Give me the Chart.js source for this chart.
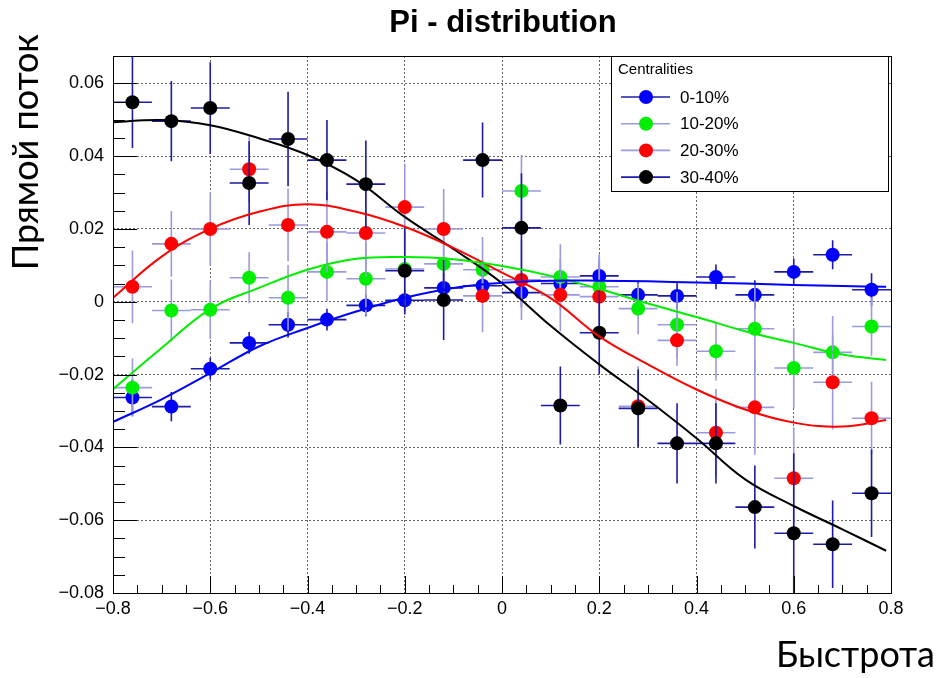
<!DOCTYPE html>
<html>
<head>
<meta charset="utf-8">
<title>Pi - distribution</title>
<script src="https://cdn.jsdelivr.net/npm/chart.js@4/dist/chart.umd.min.js"></script>
<style>
	html, body { margin: 0; padding: 0; background: #fff; }
</style>
</head>
<body>
<canvas id="chart" width="940" height="678"></canvas>
<script>
// bin centres (rapidity), half bin width 0.04
const rapidity = [-0.76, -0.68, -0.6, -0.52, -0.44, -0.36, -0.28, -0.2, -0.12, -0.04, 0.04, 0.12, 0.2, 0.28, 0.36, 0.44, 0.52, 0.6, 0.68, 0.76];
const binHalf = 0.04;
const centralities = ['0-10%', '10-20%', '20-30%', '30-40%'];

const flow0to10 = [-0.0263, -0.0288, -0.0184, -0.0113, -0.0063, -0.0049, -0.001, 0.0004, 0.0038, 0.0044, 0.0025, 0.005, 0.0071, 0.0019, 0.0016, 0.0068, 0.0019, 0.0082, 0.0129, 0.0033];
const flow10to20 = [-0.0236, -0.0024, -0.0022, 0.0066, 0.0011, 0.0082, 0.0063, 0.009, 0.0104, 0.0088, 0.0304, 0.0068, 0.0041, -0.0019, -0.0063, -0.0136, -0.0074, -0.0182, -0.0139, -0.0068];
const flow20to30 = [0.0041, 0.0159, 0.02, 0.0364, 0.0211, 0.0192, 0.0189, 0.026, 0.02, 0.0016, 0.006, 0.0019, 0.0014, -0.0287, -0.0106, -0.036, -0.029, -0.0485, -0.0221, -0.032];
const flow30to40 = [0.0548, 0.0496, 0.0532, 0.0326, 0.0447, 0.0389, 0.0323, 0.0085, 0.0005, 0.0389, 0.0203, -0.0285, -0.0085, -0.0293, -0.0389, -0.0389, -0.0564, -0.0636, -0.0666, -0.0526];

const err0to10 = [0.005, 0.004, 0.003, 0.003, 0.0035, 0.003, 0.003, 0.003, 0.004, 0.004, 0.004, 0.004, 0.004, 0.004, 0.0037, 0.0034, 0.004, 0.0037, 0.004, 0.0045];
const err10to20 = [0.008, 0.0085, 0.008, 0.007, 0.009, 0.008, 0.01, 0.01, 0.009, 0.009, 0.01, 0.009, 0.009, 0.007, 0.009, 0.008, 0.012, 0.011, 0.01, 0.008];
const err20to30 = [0.01, 0.009, 0.01, 0.009, 0.01, 0.011, 0.012, 0.012, 0.011, 0.01, 0.011, 0.01, 0.011, 0.011, 0.007, 0.012, 0.013, 0.014, 0.013, 0.01];
const err30to40 = [0.0126, 0.011, 0.0126, 0.0115, 0.013, 0.011, 0.012, 0.012, 0.011, 0.0103, 0.015, 0.0107, 0.0115, 0.0107, 0.011, 0.011, 0.0114, 0.022, 0.012, 0.012];

// fit curves
const fitRapidity = [-0.8, -0.7, -0.6, -0.5, -0.4, -0.3, -0.2, -0.1, 0, 0.1, 0.2, 0.3, 0.4, 0.5, 0.6, 0.7, 0.79];
const fit0to10 = [-0.033, -0.0268, -0.0196, -0.0123, -0.0072, -0.0027, 0.0011, 0.0038, 0.0052, 0.0058, 0.0058, 0.0056, 0.0053, 0.005, 0.0046, 0.0043, 0.0041];
const fit10to20 = [-0.024, -0.0127, -0.002, 0.0038, 0.0088, 0.0118, 0.0123, 0.0117, 0.0098, 0.0071, 0.0035, -0.0005, -0.0042, -0.0081, -0.0113, -0.0145, -0.016];
const fit20to30 = [0.0011, 0.0124, 0.02, 0.0247, 0.0268, 0.0247, 0.0206, 0.0148, 0.008, 0.001, -0.0095, -0.0172, -0.0241, -0.0296, -0.0332, -0.0343, -0.0325];
const fit30to40 = [0.0493, 0.0499, 0.0485, 0.0449, 0.0403, 0.0334, 0.0233, 0.0145, 0.0051, -0.0066, -0.0172, -0.027, -0.0375, -0.0488, -0.0561, -0.0625, -0.0684];

const
	markerColors = ['#0000ff', '#00ee00', '#ff0000', '#000000'],
	errColors = ['#1c1ca6', '#9a9ae0', '#9a9ae0', '#1c1ca6'],
	flows = [flow0to10, flow10to20, flow20to30, flow30to40],
	errors = [err0to10, err10to20, err20to30, err30to40],
	fits = [fit0to10, fit10to20, fit20to30, fit30to40];

const isMajor = (v, step) => Math.abs(v / step - Math.round(v / step)) < 1e-6;
const fmt = v => {
	if (Math.abs(v) < 1e-9) return '0';
	const s = Math.abs(v).toFixed(2).replace(/0$/, '').replace(/^0\.(\d)$/, '0.$1');
	return (v < 0 ? '\u2212' : '') + s;
};

const pointSets = centralities.map((name, k) => ({
	label: name,
	data: rapidity.map((x, i) => ({x, y: flows[k][i]})),
	yErr: errors[k],
	errColor: errColors[k],
	pointRadius: 7,
	pointHoverRadius: 7,
	pointBackgroundColor: markerColors[k],
	pointBorderWidth: 0,
	showLine: false,
	order: 10 - k
}));

const fitSets = centralities.map((name, k) => ({
	label: 'fit ' + name,
	data: fitRapidity.map((x, i) => ({x, y: fits[k][i]})),
	showLine: true,
	borderColor: markerColors[k],
	borderWidth: 2,
	pointRadius: 0,
	tension: 0.4,
	order: 1
}));

const rootStyle = {
	id: 'rootStyle',
	beforeDatasetDraw(chart, args) {
		const ds = chart.data.datasets[args.index];
		if (!ds.yErr) return;
		const {x, y} = chart.scales, ctx = chart.ctx, a = chart.chartArea;
		ctx.save();
		ctx.beginPath();
		ctx.rect(a.left, a.top, a.right - a.left, a.bottom - a.top);
		ctx.clip();
		ctx.strokeStyle = ds.errColor;
		ctx.lineWidth = 1.6;
		ctx.beginPath();
		ds.data.forEach((p, i) => {
			const px = x.getPixelForValue(p.x), py = y.getPixelForValue(p.y);
			ctx.moveTo(x.getPixelForValue(p.x - binHalf), py);
			ctx.lineTo(x.getPixelForValue(p.x + binHalf), py);
			ctx.moveTo(px, y.getPixelForValue(p.y + ds.yErr[i]));
			ctx.lineTo(px, y.getPixelForValue(p.y - ds.yErr[i]));
		});
		ctx.stroke();
		ctx.restore();
	},
	afterDraw(chart) {
		const {x, y} = chart.scales, ctx = chart.ctx, a = chart.chartArea;
		ctx.save();

		// frame
		ctx.strokeStyle = '#000';
		ctx.lineWidth = 1;
		ctx.strokeRect(a.left + 0.5, a.top + 0.5, a.right - a.left, a.bottom - a.top);

		// inward ticks
		ctx.beginPath();
		x.ticks.forEach(t => {
			if (!isMajor(t.value, 0.05)) return;
			const px = Math.round(x.getPixelForValue(t.value)) + 0.5;
			const len = isMajor(t.value, 0.2) ? 17 : 8;
			ctx.moveTo(px, a.bottom);
			ctx.lineTo(px, a.bottom - len);
		});
		y.ticks.forEach(t => {
			if (!isMajor(t.value, 0.005)) return;
			const py = Math.round(y.getPixelForValue(t.value)) + 0.5;
			const len = isMajor(t.value, 0.02) ? 24 : 12;
			ctx.moveTo(a.left, py);
			ctx.lineTo(a.left + len, py);
		});
		ctx.stroke();

		// title
		ctx.fillStyle = '#000';
		ctx.font = 'bold 31px "Liberation Sans", Arial, sans-serif';
		ctx.textAlign = 'center';
		ctx.textBaseline = 'alphabetic';
		ctx.fillText('Pi - distribution', 503, 32);

		// axis titles
		ctx.font = '36px Lato, "Open Sans", sans-serif';
		ctx.textAlign = 'right';
		ctx.fillText('Быстрота', 935, 667);
		ctx.save();
		ctx.translate(38, 34);
		ctx.rotate(-Math.PI / 2);
		ctx.textAlign = 'right';
		ctx.fillText('Прямой поток', 0, 0);
		ctx.restore();

		// legend
		const lx = 611, ly = 56, lw = 277, lh = 135;
		ctx.fillStyle = '#fff';
		ctx.fillRect(lx, ly, lw, lh);
		ctx.strokeStyle = '#000';
		ctx.lineWidth = 1;
		ctx.strokeRect(lx + 0.5, ly + 0.5, lw, lh);
		ctx.fillStyle = '#000';
		ctx.textAlign = 'left';
		ctx.textBaseline = 'middle';
		ctx.font = '15px "Liberation Sans", Arial, sans-serif';
		ctx.fillText('Centralities', 618, 70);
		ctx.font = '17px "Liberation Sans", Arial, sans-serif';
		pointSets.forEach((ds, k) => {
			const cy = 97 + k * 26.7;
			ctx.strokeStyle = ds.errColor;
			ctx.lineWidth = 1.6;
			ctx.beginPath();
			ctx.moveTo(621, cy);
			ctx.lineTo(670, cy);
			ctx.stroke();
			ctx.fillStyle = ds.pointBackgroundColor;
			ctx.beginPath();
			ctx.arc(646, cy, 7, 0, Math.PI * 2);
			ctx.fill();
			ctx.fillStyle = '#000';
			ctx.fillText(ds.label, 680, cy + 1);
		});
		ctx.restore();
	}
};

new Chart(document.getElementById('chart'), {
	type: 'scatter',
	data: {datasets: [...pointSets, ...fitSets]},
	options: {
		responsive: false,
		animation: false,
		devicePixelRatio: 1,
		layout: {padding: {top: 56, right: 49, left: 0, bottom: 0}},
		plugins: {legend: {display: false}, tooltip: {enabled: false}},
		scales: {
			x: {
				type: 'linear',
				min: -0.8,
				max: 0.8,
				afterFit: s => { s.height = 85; },
				border: {display: false, dash: [2, 2]},
				grid: {
					drawTicks: false,
					lineWidth: 1,
					color: c => isMajor(c.tick.value, 0.2) ? '#666' : 'rgba(0,0,0,0)'
				},
				ticks: {
					stepSize: 0.05,
					autoSkip: false,
					maxRotation: 0,
					padding: 5,
					color: '#000',
					font: {family: '"Liberation Sans", Arial, sans-serif', size: 18},
					callback: v => isMajor(v, 0.2) ? fmt(v) : ''
				}
			},
			y: {
				type: 'linear',
				min: -0.08,
				max: 0.0675,
				afterFit: s => { s.width = 113; },
				border: {display: false, dash: [2, 2]},
				grid: {
					drawTicks: false,
					lineWidth: 1,
					color: c => isMajor(c.tick.value, 0.02) ? '#666' : 'rgba(0,0,0,0)'
				},
				ticks: {
					stepSize: 0.005,
					autoSkip: false,
					padding: 9,
					color: '#000',
					font: {family: '"Liberation Sans", Arial, sans-serif', size: 18},
					callback: v => isMajor(v, 0.02) ? fmt(v) : ''
				}
			}
		}
	},
	plugins: [rootStyle]
});
</script>
</body>
</html>
